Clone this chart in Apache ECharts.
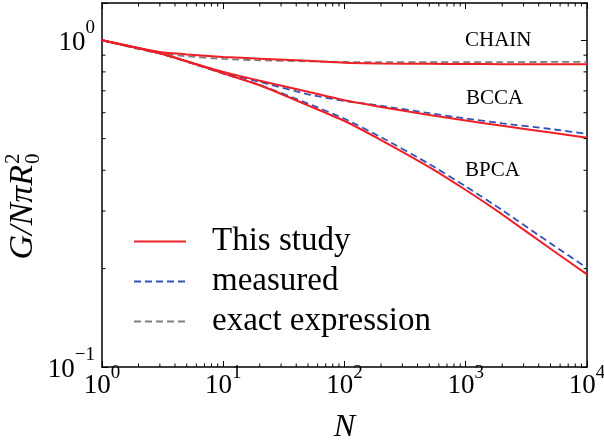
<!DOCTYPE html>
<html>
<head>
<meta charset="utf-8">
<script src="https://cdn.jsdelivr.net/npm/echarts@6/dist/echarts.min.js"></script>
<style>
html,body{margin:0;padding:0;background:#fff}
#main{width:604px;height:443px}
</style>
</head>
<body>
<div id="main"></div>
<script>
var nValues      = [1, 2, 3, 5, 10, 20, 50, 100, 200, 500, 1000, 2000, 5000, 10000];
var chainStudy   = [1, 0.947, 0.92, 0.905, 0.889, 0.878, 0.865, 0.853, 0.849, 0.847, 0.846, 0.845, 0.844, 0.844];
var chainExact   = [1, 0.94, 0.912, 0.893, 0.877, 0.868, 0.862, 0.858, 0.857, 0.857, 0.857, 0.857, 0.858, 0.858];
var bccaStudy    = [1, 0.945, 0.912, 0.863, 0.8, 0.752, 0.696, 0.655, 0.625, 0.59, 0.568, 0.547, 0.522, 0.503];
var bccaMeasured = [1, 0.945, 0.912, 0.861, 0.797, 0.746, 0.683, 0.652, 0.63, 0.598, 0.576, 0.557, 0.535, 0.517];
var bpcaStudy    = [1, 0.945, 0.912, 0.861, 0.792, 0.728, 0.632, 0.566, 0.495, 0.409, 0.348, 0.293, 0.23, 0.192];
var bpcaMeasured = [1, 0.945, 0.912, 0.86, 0.79, 0.73, 0.64, 0.575, 0.505, 0.418, 0.357, 0.302, 0.239, 0.201];

var xMin = 1, xMax = 10000, yMin = 0.1, yMax = 1.3;
var xMinorTicks = [2,3,4,5,6,7,8,9, 20,30,40,50,60,70,80,90, 200,300,400,500,600,700,800,900, 2000,3000,4000,5000,6000,7000,8000,9000];
var yMinorTicks = [0.2,0.3,0.4,0.5,0.6,0.7,0.8,0.9];
var legendNames = ['This study', 'measured', 'exact expression'];

var serif = '"Liberation Serif", "Times New Roman", serif';
var RED = '#ee1f26', BLUE = '#3352b3', GRAY = '#7f7f7f';

function pairs(ys) {
    return nValues.map(function (n, i) { return [n, ys[i]]; });
}

function decadeLabel(v) {
    var e = Math.log10(v);
    if (Math.abs(e - Math.round(e)) > 1e-6) return '';
    e = Math.round(e);
    return '{b|10}{s|' + (e < 0 ? '\u2212' + (-e) : e) + '}';
}

function lineSeries(name, ys, color, dashed, z) {
    return {
        name: name, type: 'line', data: pairs(ys),
        xAxisIndex: 0, yAxisIndex: 0,
        symbol: 'none', showSymbol: false, smooth: 0.2, z: z,
        lineStyle: { color: color, width: dashed ? 1.8 : 2, type: dashed ? [7, 4] : 'solid' },
        itemStyle: { color: color }
    };
}

function minorTicks(vals, isX) {
    return {
        type: 'custom', name: isX ? 'xminor' : 'yminor', silent: true, clip: false,
        xAxisIndex: 0, yAxisIndex: 0, z: 10,
        data: vals.map(function (v) { return isX ? [v, yMin] : [xMin, v]; }),
        renderItem: function (params, api) {
            var v = api.value(isX ? 0 : 1);
            var a = isX ? api.coord([v, yMin]) : api.coord([xMin, v]);
            var b = isX ? api.coord([v, yMax]) : api.coord([xMax, v]);
            var st = { stroke: '#000', lineWidth: 1 };
            var L = 3.5;
            return { type: 'group', children: isX ? [
                { type: 'line', shape: { x1: a[0], y1: a[1], x2: a[0], y2: a[1] - L }, style: st },
                { type: 'line', shape: { x1: b[0], y1: b[1], x2: b[0], y2: b[1] + L }, style: st }
            ] : [
                { type: 'line', shape: { x1: a[0], y1: a[1], x2: a[0] + L, y2: a[1] }, style: st },
                { type: 'line', shape: { x1: b[0], y1: b[1], x2: b[0] - L, y2: b[1] }, style: st }
            ] };
        }
    };
}

var axisLine = { show: true, onZero: false, lineStyle: { color: '#000', width: 1.5 } };
var majorTick = { show: true, inside: true, length: 6, lineStyle: { color: '#000', width: 1 } };
var richX = {
    b: { fontSize: 27, fontFamily: serif, color: '#000', lineHeight: 30 },
    s: { fontSize: 19, fontFamily: serif, color: '#000', lineHeight: 19, padding: [0, 0, 24, 0] }
};
var richY = {
    b: { fontSize: 27, fontFamily: serif, color: '#000', lineHeight: 30, padding: [5, 0, 0, 0] },
    s: { fontSize: 19, fontFamily: serif, color: '#000', lineHeight: 19, padding: [0, 0, 24, 0] }
};

var myChart = echarts.init(document.getElementById('main'), null, { renderer: 'canvas' });

var option = {
    animation: false,
    backgroundColor: '#fff',
    grid: { left: 102, right: 17, top: 3, bottom: 76, outerBoundsMode: 'none' },
    legend: {
        data: legendNames,
        orient: 'vertical', left: 128, top: 220,
        itemWidth: 52, itemHeight: 14, itemGap: 7,
        selectedMode: false,
        itemStyle: { opacity: 0 },
        textStyle: { fontFamily: serif, fontSize: 33, color: '#000', lineHeight: 32, padding: [0, 0, 0, 21] }
    },
    xAxis: [{
        type: 'log', logBase: 10, min: xMin, max: xMax, position: 'bottom',
        name: 'N', nameLocation: 'middle', nameGap: 42,
        nameTextStyle: { fontFamily: serif, fontStyle: 'italic', fontSize: 32, color: '#000' },
        axisLine: axisLine, axisTick: majorTick, splitLine: { show: false }, minorTick: { show: false },
        axisLabel: { margin: 3.5, formatter: decadeLabel, rich: richX, showMinLabel: true, showMaxLabel: true }
    }, {
        type: 'log', logBase: 10, min: xMin, max: xMax, position: 'top',
        axisLine: axisLine, axisTick: majorTick, splitLine: { show: false },
        axisLabel: { show: false }
    }],
    yAxis: [{
        type: 'log', logBase: 10, min: yMin, max: yMax, position: 'left',
        axisLine: axisLine, axisTick: majorTick, splitLine: { show: false }, minorTick: { show: false },
        axisLabel: { margin: 7, formatter: decadeLabel, rich: richY, showMinLabel: true, showMaxLabel: true }
    }, {
        type: 'log', logBase: 10, min: yMin, max: yMax, position: 'right',
        axisLine: axisLine, axisTick: majorTick, splitLine: { show: false },
        axisLabel: { show: false }
    }],
    graphic: [
        { type: 'text', x: 465, y: 40, style: { text: 'CHAIN', font: '21px ' + serif, fill: '#000', verticalAlign: 'middle' } },
        { type: 'text', x: 466, y: 98, style: { text: 'BCCA', font: '21px ' + serif, fill: '#000', verticalAlign: 'middle' } },
        { type: 'text', x: 465, y: 170, style: { text: 'BPCA', font: '21px ' + serif, fill: '#000', verticalAlign: 'middle' } },
        {
            type: 'group', x: 23, y: 205, rotation: Math.PI / 2,
            children: [
                { type: 'text', x: 40, y: 0, style: { text: 'G/N\u03c0R', font: 'italic 34px ' + serif, fill: '#000', align: 'right', verticalAlign: 'middle' } },
                { type: 'text', x: 41, y: -10, style: { text: '2', font: '21px ' + serif, fill: '#000', align: 'left', verticalAlign: 'middle' } },
                { type: 'text', x: 41, y: 10, style: { text: '0', font: '21px ' + serif, fill: '#000', align: 'left', verticalAlign: 'middle' } }
            ]
        }
    ],
    series: [
        lineSeries('exact expression', chainExact, GRAY, true, 2),
        lineSeries('measured', bccaMeasured, BLUE, true, 2),
        lineSeries('measured', bpcaMeasured, BLUE, true, 2),
        lineSeries('This study', chainStudy, RED, false, 3),
        lineSeries('This study', bccaStudy, RED, false, 3),
        lineSeries('This study', bpcaStudy, RED, false, 3),
        minorTicks(xMinorTicks, true),
        minorTicks(yMinorTicks, false)
    ]
};
myChart.setOption(option);
</script>
</body>
</html>
